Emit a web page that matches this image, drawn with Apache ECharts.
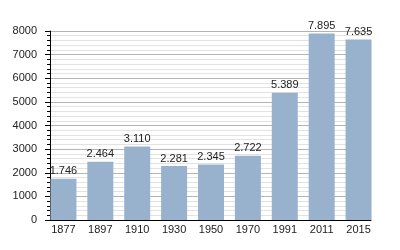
<!DOCTYPE html>
<html>
<head>
<meta charset="utf-8">
<script src="https://cdn.jsdelivr.net/npm/echarts@6/dist/echarts.min.js"></script>
<style>
  html, body { margin: 0; padding: 0; background: #fff; }
  #chart { width: 400px; height: 250px; }
</style>
</head>
<body>
<div id="chart"></div>
<script>
const years = ['1877', '1897', '1910', '1930', '1950', '1970', '1991', '2011', '2015']
const population = [1746, 2464, 3110, 2281, 2345, 2722, 5389, 7895, 7635]

const font = 'Liberation Sans, Arial, sans-serif'
const chart = echarts.init(document.getElementById('chart'))

// dotted thousands, e.g. 1.746
const fmt = v => String(v).replace(/\B(?=(\d{3})+(?!\d))/g, '.')

chart.setOption({
  animation: false,
  textStyle: { fontFamily: font },
  grid: [
    // frame grid: y axis, gridlines, x axis line
    { left: 50, right: 29, top: 31, bottom: 30 },
    // bar grid, slightly wider so outer bars sit flush with the axis ends
    { left: 45, right: 23, top: 31, bottom: 30 }
  ],
  xAxis: [{
    type: 'category',
    gridIndex: 0,
    data: years,
    z: 5,
    axisLine: { lineStyle: { color: '#000', width: 1 } },
    axisTick: { show: false },
    axisLabel: { show: false }
  }, {
    type: 'category',
    gridIndex: 1,
    data: years,
    axisLine: { show: false },
    axisTick: { show: false },
    axisLabel: { color: '#222', fontSize: 11, fontFamily: font, margin: 4 }
  }],
  yAxis: [{
    type: 'value',
    gridIndex: 0,
    min: 0,
    max: 8000,
    interval: 1000,
    axisLine: { show: true, lineStyle: { color: '#000' } },
    axisTick: { show: true, length: 5, lineStyle: { color: '#000' } },
    minorTick: { show: true, splitNumber: 5, length: 3, lineStyle: { color: '#000' } },
    axisLabel: { color: '#222', fontSize: 11, fontFamily: font, margin: 13, formatter: v => String(v) },
    splitLine: { lineStyle: { color: '#b4b4b4' } },
    minorSplitLine: { show: true, lineStyle: { color: '#e2e2e2' } }
  }, {
    type: 'value',
    gridIndex: 1,
    min: 0,
    max: 8000,
    show: false,
    splitLine: { show: false }
  }],
  series: [{
    type: 'bar',
    xAxisIndex: 1,
    yAxisIndex: 1,
    barWidth: 26,
    data: population,
    itemStyle: { color: '#98b1cd' },
    label: {
      show: true,
      position: 'top',
      distance: 2,
      color: '#222',
      fontSize: 11,
      fontFamily: font,
      formatter: p => fmt(p.value)
    }
  }]
})
</script>
</body>
</html>
